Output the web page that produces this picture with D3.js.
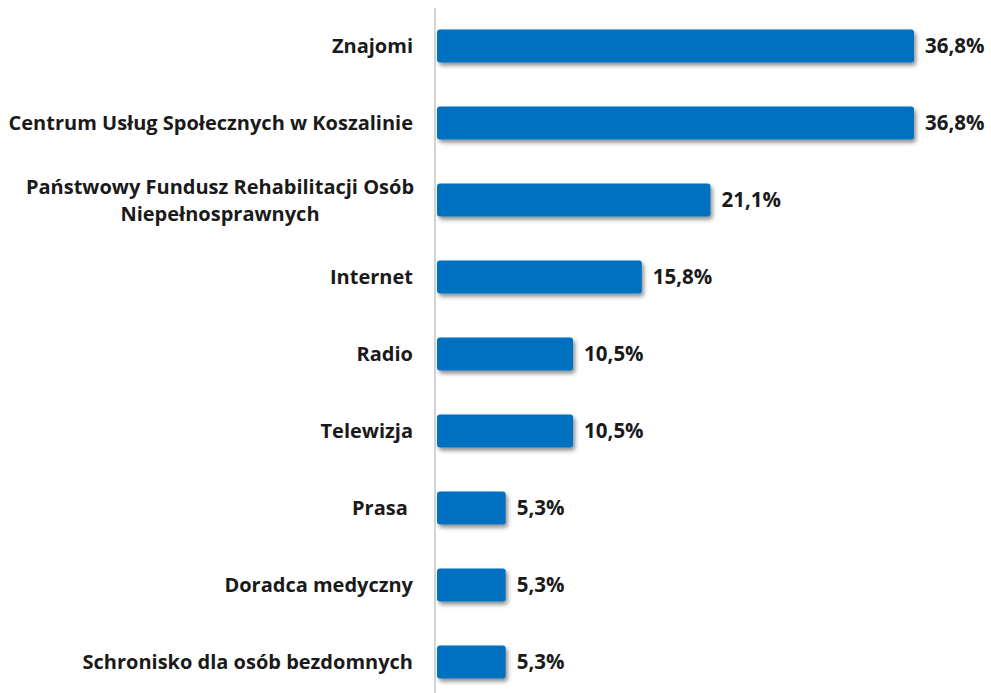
<!DOCTYPE html>
<html><head><meta charset="utf-8">
<script src="https://cdn.jsdelivr.net/npm/d3@7"></script>
<style>
html,body{margin:0;padding:0;background:#fff;}
svg text{font-family:"Open Sans",sans-serif;font-weight:700;fill:#1a1a1a;white-space:pre;}
</style></head>
<body>
<svg id="chart" width="991" height="693"></svg>
<script>
const categories = [
  ["Znajomi"],
  ["Centrum Usług Społecznych w Koszalinie"],
  ["Państwowy Fundusz Rehabilitacji Osób", "Niepełnosprawnych"],
  ["Internet"],
  ["Radio"],
  ["Telewizja"],
  ["Prasa "],
  ["Doradca medyczny"],
  ["Schronisko dla osób bezdomnych"]
];
const values = [36.8, 36.8, 21.1, 15.8, 10.5, 10.5, 5.3, 5.3, 5.3];
const valueLabels = ["36,8%", "36,8%", "21,1%", "15,8%", "10,5%", "10,5%", "5,3%", "5,3%", "5,3%"];

const svg = d3.select("#chart");
const ids = categories.map((c, i) => i);
const x0 = 437;
const x = d3.scaleLinear().domain([0, 36.8]).range([x0, 914]);
const y = d3.scaleBand().domain(ids).range([7.5, 700.5]).paddingInner(0.57).paddingOuter(0.285);

const defs = svg.append("defs");
const f = defs.append("filter").attr("id", "sh").attr("x", "-10%").attr("y", "-30%").attr("width", "130%").attr("height", "180%");
f.append("feDropShadow").attr("dx", 2).attr("dy", 3).attr("stdDeviation", 2).attr("flood-color", "#000").attr("flood-opacity", 0.45);

// axis line
svg.append("line").attr("x1", 435).attr("x2", 435).attr("y1", 8).attr("y2", 693)
  .attr("stroke", "#d4d4d4").attr("stroke-width", 2);

svg.append("g").selectAll("rect").data(ids).join("rect")
  .attr("x", x0).attr("y", i => y(i))
  .attr("width", i => x(values[i]) - x0).attr("height", y.bandwidth())
  .attr("rx", 3).attr("fill", "#0070C0").attr("filter", "url(#sh)");

svg.append("g").selectAll("text").data(ids).join("text")
  .attr("x", i => x(values[i]) + 11)
  .attr("y", i => y(i) + y.bandwidth() / 2)
  .attr("dy", "0.36em").attr("font-size", 20.5)
  .text(i => valueLabels[i]);

const lab = svg.append("g").selectAll("text").data(ids).join("text")
  .attr("font-size", 20)
  .attr("text-anchor", i => categories[i].length > 1 ? "middle" : "end")
  .attr("x", i => categories[i].length > 1 ? 220 : 413)
  .attr("y", i => y(i) + y.bandwidth() / 2);
lab.each(function(i) {
  const lines = categories[i];
  const t = d3.select(this);
  const lh = 27;
  lines.forEach((l, k) => {
    t.append("tspan").attr("x", lines.length > 1 ? 220 : 413)
      .attr("y", y(i) + y.bandwidth() / 2 + (k - (lines.length - 1) / 2) * lh)
      .attr("dy", "0.36em").text(l);
  });
});
</script>
</body></html>
